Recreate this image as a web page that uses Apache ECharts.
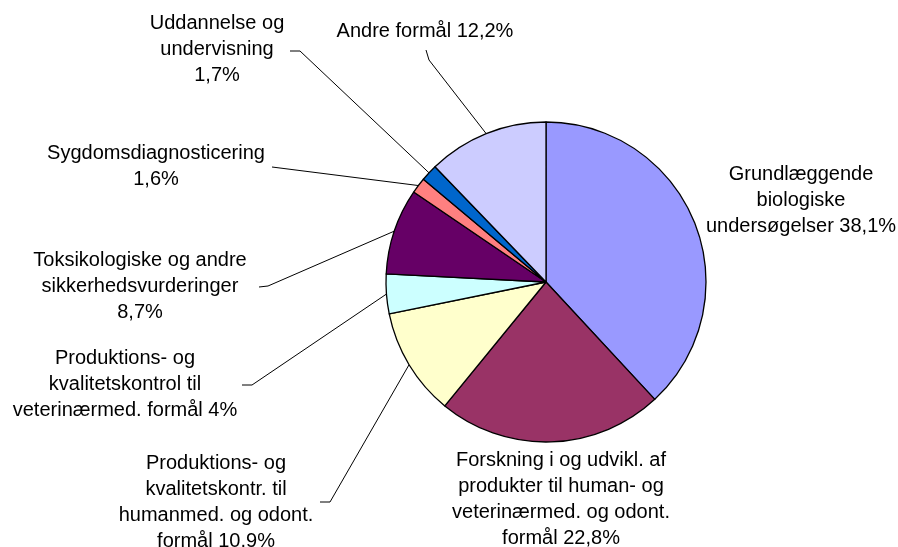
<!DOCTYPE html>
<html lang="da">
<head>
    <meta charset="UTF-8">
    <title>Forsøgsdyr fordelt på formål</title>
    <script src="https://cdn.jsdelivr.net/npm/echarts@6/dist/echarts.min.js"></script>
    <style>
        html, body { margin: 0; padding: 0; background: #fff; }
        #chartmain { width: 898px; height: 547px; }
    </style>
</head>
<body>
<div id="chartmain"></div>
<script>
    // data, clockwise from 12 o'clock
    var names = [
        'Grundlæggende biologiske undersøgelser',
        'Forskning i og udvikl. af produkter til human- og veterinærmed. og odont. formål',
        'Produktions- og kvalitetskontr. til humanmed. og odont. formål',
        'Produktions- og kvalitetskontrol til veterinærmed. formål',
        'Toksikologiske og andre sikkerhedsvurderinger',
        'Sygdomsdiagnosticering',
        'Uddannelse og undervisning',
        'Andre formål'
    ];
    var values = [38.1, 22.8, 10.9, 4, 8.7, 1.6, 1.7, 12.2];
    var labelTexts = [
        'Grundlæggende\nbiologiske\nundersøgelser 38,1%',
        'Forskning i og udvikl. af\nprodukter til human- og\nveterinærmed. og odont.\nformål 22,8%',
        'Produktions- og\nkvalitetskontr. til\nhumanmed. og odont.\nformål 10.9%',
        'Produktions- og\nkvalitetskontrol til\nveterinærmed. formål 4%',
        'Toksikologiske og andre\nsikkerhedsvurderinger\n8,7%',
        'Sygdomsdiagnosticering\n1,6%',
        'Uddannelse og\nundervisning\n1,7%',
        'Andre formål 12,2%'
    ];
    var colors = ['#9999FF', '#993366', '#FFFFCC', '#CCFFFF', '#660066', '#FF8080', '#0066CC', '#CCCCFF'];

    // where each label block sits (centre) and the bend/end of its leader line
    var labelPos = [[801, 200], [561, 499], [216, 502], [125, 384], [140, 286], [156, 166], [217, 49], [425, 31]];
    var leaders = [
        null,
        null,
        [[330, 502], [320, 502]],
        [[252, 385], [242, 385]],
        [[268, 286], [259, 287]],
        [[272, 167]],
        [[300, 51], [290, 51]],
        [[429, 60], [426, 50]]
    ];

    var pieData = values.map(function (v, i) {
        return {
            value: v,
            name: names[i],
            itemStyle: {color: colors[i]},
            labelLine: {show: leaders[i] !== null}
        };
    });

    var option = {
        backgroundColor: '#fff',
        animation: false,
        series: [{
            type: 'pie',
            center: [546, 282],
            radius: 160,
            startAngle: 90,
            clockwise: true,
            avoidLabelOverlap: false,
            itemStyle: {borderColor: '#000', borderWidth: 1.3},
            label: {
                show: true,
                position: 'outside',
                color: '#000',
                fontFamily: 'Liberation Sans, Arial, sans-serif',
                fontSize: 20,
                lineHeight: 26,
                align: 'center',
                formatter: function (p) { return labelTexts[p.dataIndex]; }
            },
            labelLine: {show: true, lineStyle: {color: '#000', width: 1}},
            labelLayout: function (p) {
                var i = p.dataIndex;
                var out = {x: labelPos[i][0], y: labelPos[i][1], align: 'center', verticalAlign: 'middle'};
                if (leaders[i] && p.labelLinePoints) {
                    out.labelLinePoints = [p.labelLinePoints[0]].concat(leaders[i]);
                }
                return out;
            },
            emphasis: {disabled: true},
            data: pieData
        }]
    };

    var myChart = echarts.init(document.getElementById('chartmain'));
    myChart.setOption(option);
</script>
</body>
</html>
